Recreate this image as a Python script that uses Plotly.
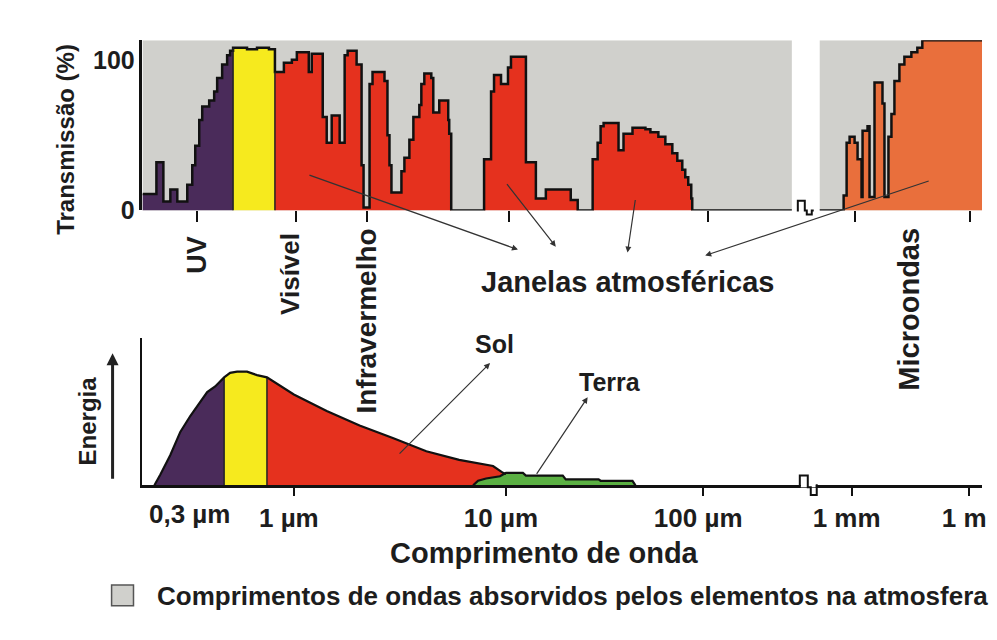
import numpy as np
import plotly.graph_objects as go

W, H = 997, 640

# ---------------- data ----------------
# Positions along the (broken, log-like) wavelength axis, in axis units.
# Top panel: atmospheric transmission (%) - step profile
trans_pos = [135, 149, 156, 163, 170, 180, 185, 188, 192, 195, 202, 207, 210, 215, 220, 223,
             226, 240, 250, 262,
             268, 277, 285, 290, 302, 305, 316, 320, 325, 333, 338, 341, 350, 355, 357, 363,
             366, 378, 381, 383, 385, 395, 398, 403, 407, 413, 415, 418, 425, 427, 433, 442,
             443, 445, 478, 485, 488, 495, 502, 505, 520, 530, 540, 565, 572, 587, 592, 595,
             598, 613, 618, 627, 640, 645, 653, 660, 667, 672, 677, 680, 683, 686, 687, 787]
trans_pct = [11, 32, 6, 14, 6, 17, 30, 43, 60, 69, 73, 79, 88, 97, 103, 106,
             108, 107, 108, 107,
             92, 98, 100, 105, 92, 104, 62, 45, 63, 45, 103, 106, 97, 30, 2, 84,
             92, 86, 50, 30, 12, 26, 35, 47, 62, 70, 84, 91, 88, 65, 73, 60,
             51, 0, 34, 79, 90, 84, 95, 102, 32, 8, 14, 7, 0, 34, 45, 56,
             58, 40, 51, 55, 54, 52, 49, 44, 38, 33, 27, 22, 17, 8, 0, 0]

# microwave part (right of the axis break)
mw_pos = [815, 839, 842, 845, 850, 853, 857, 858, 863, 865, 870, 878, 880, 884, 887, 890,
          895, 900, 907, 913, 918, 978]
mw_pct = [0, 10, 45, 49, 45, 34, 9, 53, 56, 9, 85, 71, 9, 49, 64, 86,
          97, 102, 105, 108, 113, 113]

# band limits on the top panel
uv_end_top, vis_end_top = 226, 268
absorb_spans = [(135, 787), (815, 978)]

# Bottom panel: relative energy emitted by the Sun and by the Earth
sun_pos = [147, 153, 163, 173, 183, 193, 200, 208, 217, 223, 230, 240, 250, 260, 287, 320,
           353, 387, 420, 453, 487, 497, 500]
sun_E = [0, 9.5, 26.7, 47, 61, 73, 82, 87, 95, 99, 100, 100, 97, 95, 80, 65.5,
         52.6, 41.4, 30, 22.4, 17, 11, 10]
earth_pos = [467, 472, 480, 490, 494, 500, 517, 520, 557, 560, 593, 595, 627, 630]
earth_E = [0, 4, 6, 7, 8, 11, 11, 8.6, 8.6, 5.2, 5.2, 4, 4, 0]
uv_end_bot, vis_end_bot = 217, 260

# axis ticks
top_ticks = [190, 289, 360, 503, 703, 850, 966]
bot_ticks = [287, 500, 698, 847, 965]
bot_ticktext = ["1 \u00b5m", "10 \u00b5m", "100 \u00b5m", "1 mm", "1 m"]

# colours
GREY = "#d0d0cc"
PURPLE = "#4a2b5a"
YELLOW = "#f6ea1e"
RED = "#e5311e"
ORANGE = "#e96f3c"
GREEN = "#5bb043"
INK = "#1d1d1d"
FONT = "Liberation Sans, Arial, sans-serif"


def px(x):
    return x / W


def py(y):
    return 1 - y / H


def step_segment(xs, ys, a, b):
    xs = np.asarray(xs, float)
    ys = np.asarray(ys, float)
    idx = np.searchsorted(xs, a, side="right") - 1
    sx = [a]
    sy = [ys[max(idx, 0)]]
    for x, y in zip(xs, ys):
        if a < x < b:
            sx.append(x)
            sy.append(y)
    sx.append(b)
    sy.append(sy[-1])
    return sx, sy


def lin_segment(xs, ys, a, b):
    xs = np.asarray(xs, float)
    ys = np.asarray(ys, float)
    sx = [a] + [x for x in xs if a < x < b] + [b]
    sy = list(np.interp(sx, xs, ys))
    return sx, sy


fig = go.Figure()

# ---- top panel fills ----
top_bands = [(trans_pos[0], uv_end_top, PURPLE), (uv_end_top, vis_end_top, YELLOW),
             (vis_end_top, trans_pos[-1], RED)]
for a, b, c in top_bands:
    sx, sy = step_segment(trans_pos, trans_pct, a, b)
    fig.add_trace(go.Scatter(x=sx, y=sy, xaxis="x2", yaxis="y2", mode="lines",
                             line=dict(shape="hv", width=0, color=c), fill="tozeroy",
                             fillcolor=c, hoverinfo="skip", showlegend=False))
fig.add_trace(go.Scatter(x=mw_pos, y=mw_pct, xaxis="x2", yaxis="y2", mode="lines",
                         line=dict(shape="hv", width=0, color=ORANGE), fill="tozeroy",
                         fillcolor=ORANGE, hoverinfo="skip", showlegend=False))
# outlines
for xs, ys in [(trans_pos, trans_pct), (mw_pos, mw_pct)]:
    fig.add_trace(go.Scatter(x=xs, y=ys, xaxis="x2", yaxis="y2", mode="lines",
                             line=dict(shape="hv", width=2.5, color="#111"),
                             hoverinfo="skip", showlegend=False))

# ---- bottom panel fills ----
bot_bands = [(sun_pos[0], uv_end_bot, PURPLE), (uv_end_bot, vis_end_bot, YELLOW),
             (vis_end_bot, sun_pos[-1], RED)]
for a, b, c in bot_bands:
    sx, sy = lin_segment(sun_pos, sun_E, a, b)
    fig.add_trace(go.Scatter(x=sx, y=sy, mode="lines", line=dict(width=0, color=c),
                             fill="tozeroy", fillcolor=c, hoverinfo="skip",
                             showlegend=False))
fig.add_trace(go.Scatter(x=earth_pos, y=earth_E, mode="lines",
                         line=dict(width=0, color=GREEN), fill="tozeroy",
                         fillcolor=GREEN, hoverinfo="skip", showlegend=False))
# band separators (vertical dark edges)
for xb in [uv_end_bot, vis_end_bot]:
    yb = float(np.interp(xb, sun_pos, sun_E))
    fig.add_trace(go.Scatter(x=[xb, xb], y=[0, yb], mode="lines",
                             line=dict(width=1.5, color="#222"), hoverinfo="skip",
                             showlegend=False))
for xb in [uv_end_top, vis_end_top]:
    sx, sy = step_segment(trans_pos, trans_pct, xb, xb + 1)
    fig.add_trace(go.Scatter(x=[xb, xb], y=[0, sy[0]], xaxis="x2", yaxis="y2",
                             mode="lines", line=dict(width=1.5, color="#222"),
                             hoverinfo="skip", showlegend=False))
fig.add_trace(go.Scatter(x=sun_pos, y=sun_E, mode="lines",
                         line=dict(width=2.2, color="#111"), hoverinfo="skip",
                         showlegend=False))
fig.add_trace(go.Scatter(x=earth_pos, y=earth_E, mode="lines",
                         line=dict(width=2.2, color="#111"), hoverinfo="skip",
                         showlegend=False))

# ---- absorbed (grey) spans ----
shapes = []
for a, b in absorb_spans:
    shapes.append(dict(type="rect", xref="x2", yref="y2", x0=a, x1=b, y0=0, y1=113,
                       fillcolor=GREY, line=dict(width=0), layer="below"))


# axis-break marks (decorative)
def pxpath(pts):
    s = "M " + " L ".join(f"{px(x):.5f},{py(y):.5f}" for x, y in pts)
    return s


for y0, pts in [(207, [(792, 207), (793, 207), (793, 197), (800, 197), (800, 207), (802, 207),
                       (802, 211), (807, 211), (807, 207), (809, 207)]),
                (488, [(794, 488), (795, 488), (795, 478), (803, 478), (803, 490), (806, 490),
                       (806, 498), (812, 498), (812, 488), (813, 488)])]:
    shapes.append(dict(type="line", xref="paper", yref="paper", x0=px(pts[1][0]) + 0.001,
                       x1=px(pts[-2][0]) - 0.001, y0=py(y0), y1=py(y0),
                       line=dict(color="white", width=4)))
    shapes.append(dict(type="path", xref="paper", yref="paper", path=pxpath(pts),
                       line=dict(color="#111", width=2)))

# legend swatch
shapes.append(dict(type="rect", xref="paper", yref="paper", x0=px(104), x1=px(126),
                   y0=py(611), y1=py(590), fillcolor=GREY, line=dict(color="#555", width=1.5)))

# ---- annotations ----
ann = []


def text(t, x, y, size, angle=0, xanchor="center"):
    ann.append(dict(text=t, x=px(x), y=py(y), xref="paper", yref="paper", showarrow=False,
                    textangle=angle, xanchor=xanchor, yanchor="middle",
                    font=dict(family=FONT, size=size, color=INK, weight="bold")))


def arrow(hx, hy, tx, ty, width=1.2, size=1.0, color="#333"):
    ann.append(dict(text="", x=px(hx), y=py(hy), xref="paper", yref="paper",
                    showarrow=True, ax=tx - hx, ay=ty - hy, arrowhead=2,
                    arrowsize=size, arrowwidth=width, arrowcolor=color))


text("Transmiss\u00e3o (%)", 57, 134, 24, -90)
text("UV", 190, 252, 27, -90)
text("Vis\u00edvel", 283, 272, 26, -90)
text("Infravermelho", 359, 320, 28, -90)
text("Microondas", 905, 308, 29, -90)
text("Janelas atmosf\u00e9ricas", 622, 280, 29)
text("Sol", 488, 344, 25)
text("Terra", 604, 382, 25)
text("Energia", 80, 422, 24, -90)
text("0,3 \u00b5m", 182, 517, 26)
text("Comprimento de onda", 539, 557, 29)
text("Comprimentos de ondas absorvidos pelos elementos na atmosfera", 148, 601, 26,
     xanchor="left")

arrow(512, 247, 302, 172)
arrow(550, 244, 500, 180)
arrow(622, 250, 630, 196)
arrow(700, 253, 925, 178)
arrow(484, 363, 392, 455)
arrow(582, 398, 530, 476)
arrow(105, 353, 105, 480, width=3, size=0.8, color="#222")

axfont = dict(family=FONT, size=25, color=INK, weight="bold")
botfont = dict(family=FONT, size=26, color=INK, weight="bold")
fig.update_layout(
    width=W, height=H, margin=dict(l=0, r=0, t=0, b=0),
    paper_bgcolor="white", plot_bgcolor="rgba(0,0,0,0)",
    showlegend=False, shapes=shapes, annotations=ann,
    xaxis=dict(domain=[px(135), px(978)], range=[135, 978], anchor="y",
               showgrid=False, zeroline=False, showline=True, linecolor="#111",
               linewidth=2.5, ticks="outside", ticklen=8, tickwidth=2, tickcolor="#111",
               tickvals=bot_ticks, ticktext=bot_ticktext, tickfont=botfont,
               ticklabelshift=-5, ticklabelstandoff=0),
    yaxis=dict(domain=[py(488), py(337)], range=[0, 130], anchor="x",
               showgrid=False, zeroline=False, showline=True, linecolor="#111",
               linewidth=2, showticklabels=False, ticks=""),
    xaxis2=dict(domain=[px(135), px(978)], range=[135, 978], anchor="y2", matches="x",
                showgrid=False, zeroline=False, showline=False, ticks="outside",
                ticklen=11, tickwidth=2, tickcolor="#111", tickvals=top_ticks,
                showticklabels=False),
    yaxis2=dict(domain=[py(207), py(33)], range=[0, 113], anchor="x2",
                showgrid=False, zeroline=False, showline=True, linecolor="#111",
                linewidth=2.5, ticks="", tickvals=[0, 100], ticktext=["0", "100"],
                tickfont=axfont),
)

fig.write_html("out.html")
